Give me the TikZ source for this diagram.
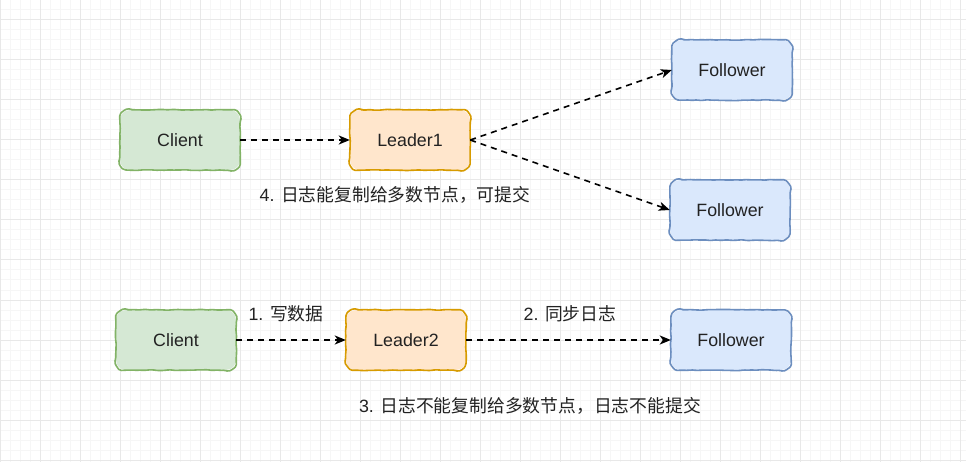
\documentclass[tikz,border=0pt]{standalone}
\usepackage{fontspec}
\setmainfont{Liberation Sans}
\newfontfamily\cjk{Noto Sans CJK SC}
\usetikzlibrary{arrows.meta,decorations.pathmorphing}
\definecolor{gminor}{HTML}{F6F6F6}
\definecolor{gmajor}{HTML}{E8E8E8}
\definecolor{txt}{HTML}{222222}
\definecolor{grF}{HTML}{D5E8D4}\definecolor{grD}{HTML}{82B366}
\definecolor{orF}{HTML}{FFE6CC}\definecolor{orD}{HTML}{D79B00}
\definecolor{blF}{HTML}{DAE8FC}\definecolor{blD}{HTML}{6C8EBF}
\tikzset{
  sketchbox/.style={minimum width=120pt,minimum height=60pt,inner sep=0pt,
    rounded corners=10pt,text=txt,
    font=\fontsize{17.8}{20}\selectfont},
  clientbox/.style={sketchbox,fill=grF},
  leaderbox/.style={sketchbox,fill=orF},
  followerbox/.style={sketchbox,fill=blF},
  wobble/.style={line width=1.6pt,line join=round,decorate,
    decoration={random steps,segment length=4pt,amplitude=0.45pt},
    rounded corners=1.5pt},
  conn/.style={line width=1.6pt,dash pattern=on 6pt off 5pt,
    -{Stealth[length=11pt,width=9pt,inset=3pt]}},
  lbl/.style={text=txt,inner sep=0pt,font=\fontsize{17.8}{20}\selectfont}
}
\newcommand\wobblebox[2]{%
  \draw[wobble,#2]
    ([xshift=10pt]#1.north west) -- ([xshift=-10pt]#1.north east)
    .. controls ([xshift=-4.5pt]#1.north east) and ([yshift=-4.5pt]#1.north east) .. ([yshift=-10pt]#1.north east)
    -- ([yshift=10pt]#1.south east)
    .. controls ([yshift=4.5pt]#1.south east) and ([xshift=-4.5pt]#1.south east) .. ([xshift=-10pt]#1.south east)
    -- ([xshift=10pt]#1.south west)
    .. controls ([xshift=4.5pt]#1.south west) and ([yshift=4.5pt]#1.south west) .. ([yshift=10pt]#1.south west)
    -- ([yshift=-10pt]#1.north west)
    .. controls ([yshift=-4.5pt]#1.north west) and ([xshift=4.5pt]#1.north west) .. ([xshift=10pt]#1.north west) -- cycle;}
\begin{document}
\begin{tikzpicture}[x=1pt,y=-1pt]
\pgfmathsetseed{11}
\useasboundingbox (0,0) rectangle (966,462);
\fill[white] (0,0) rectangle (966,462);
% minor grid
\foreach \i in {0,10,...,960} \draw[gminor,line width=1pt] (\i,0) -- (\i,462);
\foreach \j in {0,10,...,460} \draw[gminor,line width=1pt] (0,\j) -- (966,\j);
% major grid
\foreach \i in {0,40,...,960} \draw[gmajor,line width=1pt] (\i,0) -- (\i,462);
\foreach \j in {20,60,...,460} \draw[gmajor,line width=1pt] (0,\j) -- (966,\j);

\node[clientbox] (c1) at (180,140) {Client};
\node[leaderbox] (l1) at (410,140) {Leader1};
\node[followerbox] (f1) at (732,70) {Follower};
\node[followerbox] (f2) at (730,210) {Follower};

\node[clientbox] (c2) at (176,340) {Client};
\node[leaderbox] (l2) at (406,340) {Leader2};
\node[followerbox] (f3) at (731,340) {Follower};

\wobblebox{c1}{grD}
\wobblebox{c2}{grD}
\wobblebox{l1}{orD}
\wobblebox{l2}{orD}
\wobblebox{f1}{blD}
\wobblebox{f2}{blD}
\wobblebox{f3}{blD}

\draw[conn] (c1) -- (l1);
\draw[conn] (l1.east) -- (f1.west);
\draw[conn] (l1.east) -- (f2.west);
\draw[conn] (c2) -- (l2);
\draw[conn] (l2) -- (f3);

\node[lbl] (t4) at (395,195) {4. {\cjk 日志能复制给多数节点，可提交}};
\node[lbl] (t1) at (286,314) {1. {\cjk 写数据}};
\node[lbl] (t2) at (570,314) {2. {\cjk 同步日志}};
\node[lbl] (t3) at (530,406) {3. {\cjk 日志不能复制给多数节点，日志不能提交}};
\end{tikzpicture}
\end{document}
